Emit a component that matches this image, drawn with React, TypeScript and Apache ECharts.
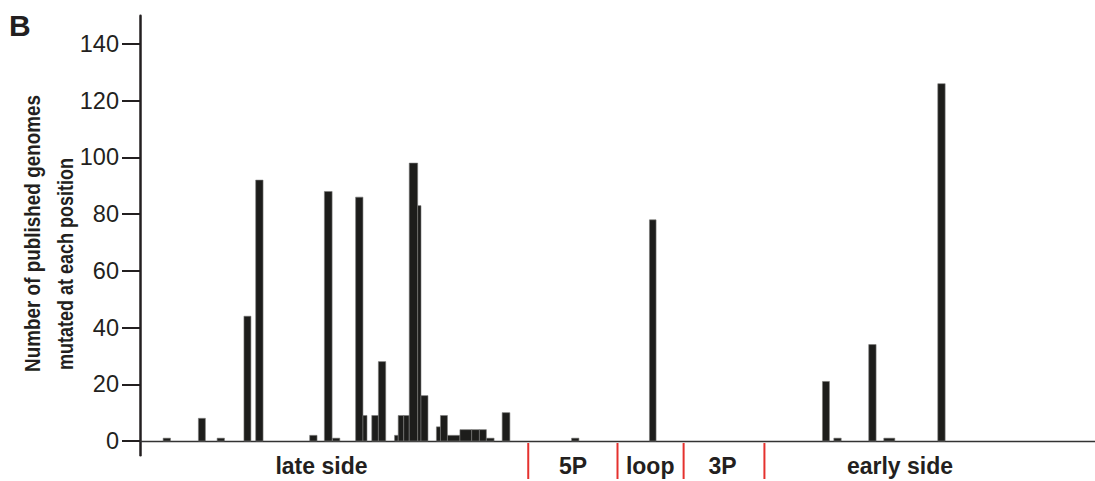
import React, { useEffect, useRef } from "react";
import * as echarts from "echarts";

// Mutated positions: start, end (sequence position units) and number of genomes
const barStarts = [6.3, 15.9, 21.0, 28.3, 31.5, 46.2, 50.2, 52.4, 58.7, 60.7, 63.1, 64.9, 69.3, 70.3, 71.8, 73.3, 75.6, 76.5, 80.7, 81.8, 83.7, 87.1, 90.3, 92.4, 94.3, 98.6, 117.5, 138.7, 185.8, 188.9, 198.4, 202.5, 217.2];
const barEnds = [8.3, 17.8, 23.0, 30.2, 33.5, 48.2, 52.3, 54.4, 60.7, 61.8, 64.9, 66.9, 70.3, 71.8, 73.3, 75.6, 76.5, 78.4, 81.8, 83.7, 87.1, 90.3, 92.4, 94.3, 96.4, 100.7, 119.5, 140.5, 187.7, 190.9, 200.4, 205.5, 219.2];
const genomeCounts = [1, 8, 1, 44, 92, 2, 88, 1, 86, 9, 9, 28, 2, 9, 9, 98, 83, 16, 5, 9, 2, 4, 4, 4, 1, 10, 1, 78, 21, 1, 34, 1, 126];

// Region boundaries and labels
const dividerPositions = [105.7, 130, 148, 170];
const regionNames = ["late side", "5P", "loop", "3P", "early side"];
const regionCenters = [49.4, 117.9, 138.9, 158.6, 206.9];

const yTicks = [0, 20, 40, 60, 80, 100, 120, 140];

const FONT = "'Liberation Sans', Arial, Helvetica, sans-serif";
const INK = "#231f20";

export default function App() {
  const ref = useRef<HTMLDivElement>(null);
  useEffect(() => {
    if (!ref.current) return;
    const chart = echarts.init(ref.current, null, { renderer: "svg" });
    const barData = barStarts.map((s, i) => [s, barEnds[i], genomeCounts[i]]);
    chart.setOption({
      animation: false,
      backgroundColor: "#ffffff",
      grid: { left: 140, right: 0, top: 15.64, bottom: 25.82, containLabel: false },
      xAxis: {
        type: "value",
        min: 0,
        max: 260,
        axisLine: { show: true, onZero: true, lineStyle: { color: "#333", width: 1.3 } },
        axisTick: { show: false },
        axisLabel: { show: false },
        splitLine: { show: false },
      },
      yAxis: {
        type: "value",
        min: -5,
        max: 150,
        axisLine: { show: true, lineStyle: { color: INK, width: 2.5 } },
        axisTick: {
          show: true,
          length: 18,
          customValues: yTicks,
          lineStyle: { color: INK, width: 2 },
        },
        axisLabel: {
          show: true,
          customValues: yTicks,
          margin: 21,
          fontSize: 23.5,
          fontFamily: FONT,
          color: INK,
        },
        splitLine: { show: false },
      },
      graphic: [
        {
          type: "text",
          x: 9,
          y: 25,
          style: { text: "B", font: `bold 30px ${FONT}`, fill: INK, align: "left", verticalAlign: "middle" },
        },
        {
          type: "text",
          x: 32,
          y: 372,
          rotation: Math.PI / 2,
          scaleX: 0.84,
          style: {
            text: "Number of published genomes",
            font: `bold 22.5px ${FONT}`,
            fill: INK,
            align: "left",
            verticalAlign: "middle",
          },
        },
        {
          type: "text",
          x: 65,
          y: 370,
          rotation: Math.PI / 2,
          scaleX: 0.8,
          style: {
            text: "mutated at each position",
            font: `bold 22.5px ${FONT}`,
            fill: INK,
            align: "left",
            verticalAlign: "middle",
          },
        },
      ],
      series: [
        {
          type: "custom",
          name: "genomes",
          data: barData,
          encode: { x: [0, 1], y: 2 },
          renderItem: (params: any, api: any) => {
            const p0 = api.coord([api.value(0), api.value(2)]);
            const p1 = api.coord([api.value(1), 0]);
            return {
              type: "rect",
              shape: { x: p0[0], y: p0[1], width: p1[0] - p0[0], height: p1[1] - p0[1] },
              style: { fill: "#1d1d1b", stroke: "#7a7a78", lineWidth: 0.6 },
            };
          },
          z: 3,
        },
        {
          type: "custom",
          name: "dividers",
          clip: false,
          silent: true,
          data: dividerPositions.map((v) => [v, 0]),
          encode: { x: 0, y: 1 },
          renderItem: (params: any, api: any) => {
            const p = api.coord([api.value(0), 0]);
            return {
              type: "line",
              shape: { x1: p[0], y1: p[1] + 2, x2: p[0], y2: p[1] + 38 },
              style: { stroke: "#e5312e", lineWidth: 2 },
            };
          },
        },
        {
          type: "custom",
          name: "regions",
          clip: false,
          silent: true,
          data: regionCenters.map((v) => [v, 0]),
          encode: { x: 0, y: 1 },
          renderItem: (params: any, api: any) => {
            const p = api.coord([api.value(0), 0]);
            return {
              type: "text",
              x: p[0],
              y: p[1] + 25,
              style: {
                text: regionNames[params.dataIndex],
                font: `bold 23px ${FONT}`,
                fill: INK,
                align: "center",
                verticalAlign: "middle",
              },
            };
          },
        },
      ],
    });
    return () => chart.dispose();
  }, []);
  return (
    <div
      ref={ref}
      style={{ position: "fixed", left: 0, top: 0, width: 1095, height: 481 }}
    />
  );
}
